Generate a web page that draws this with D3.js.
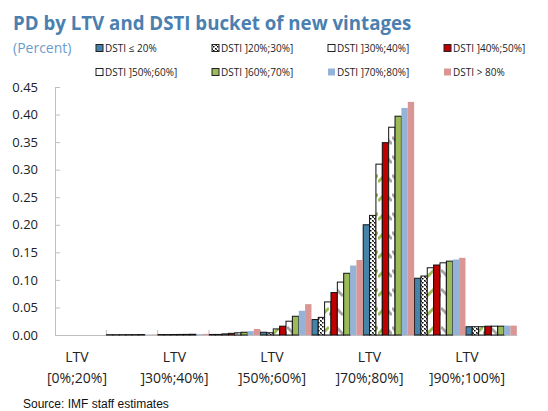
<!DOCTYPE html>
<html>

<head>
    <meta charset="utf-8">
    <title>PD by LTV and DSTI</title>
    <script src="https://d3js.org/d3.v7.min.js" charset="utf-8"></script>
    <style>
        body { margin: 0; background: #fff; }
        text { font-family: "Open Sans", sans-serif; }
    </style>
</head>

<body>

    <div class="box"></div>

    <script type="text/javascript">
        var categories = ["[0%;20%]", "]20%;30%]", "]30%;40%]", "]40%;50%]", "]50%;60%]",
            "]60%;70%]", "]70%;80%]", "]80%;90%]", "]90%;100%]"];
        var shownLabels = ["[0%;20%]", "]30%;40%]", "]50%;60%]", "]70%;80%]", "]90%;100%]"];
        var seriesNames = ["DSTI \u2264 20%", "DSTI ]20%;30%]", "DSTI ]30%;40%]", "DSTI ]40%;50%]",
            "DSTI ]50%;60%]", "DSTI ]60%;70%]", "DSTI ]70%;80%]", "DSTI > 80%"];

        var dsti20 = [0, 0.0005, 0.0008, 0.001, 0.005, 0.028, 0.200, 0.103, 0.015];
        var dsti30 = [0, 0.0005, 0.0008, 0.001, 0.004, 0.032, 0.217, 0.107, 0.015];
        var dsti40 = [0, 0.0006, 0.0009, 0.002, 0.011, 0.060, 0.310, 0.122, 0.015];
        var dsti50 = [0, 0.0006, 0.0010, 0.003, 0.016, 0.077, 0.349, 0.127, 0.016];
        var dsti60 = [0, 0.0007, 0.0011, 0.004, 0.025, 0.096, 0.377, 0.131, 0.016];
        var dsti70 = [0, 0.0008, 0.0013, 0.005, 0.034, 0.112, 0.397, 0.134, 0.016];
        var dsti80 = [0, 0.0009, 0.0016, 0.007, 0.044, 0.126, 0.412, 0.137, 0.017];
        var dstiOver = [0, 0.0010, 0.0020, 0.011, 0.056, 0.136, 0.423, 0.140, 0.017];
        var allSeries = [dsti20, dsti30, dsti40, dsti50, dsti60, dsti70, dsti80, dstiOver];

        var yTicks = [0, 0.05, 0.10, 0.15, 0.20, 0.25, 0.30, 0.35, 0.40, 0.45];

        // fills: plain colours or pattern ids
        var fills = ["#4584A8", "url(#checker)", "url(#greenZig)", "#C00000",
            "url(#grayZig)", "#9BBB59", "#95B3D7", "#D99694"];
        var outlined = [true, true, true, true, true, true, false, false];

        var width = 548;
        var height = 411;
        var plotLeft = 55, plotRight = 517, plotTop = 87, plotBottom = 335;

        var svg = d3.select("div.box").append("svg")
            .attr("width", width)
            .attr("height", height);

        var defs = svg.append("defs");
        var checker = defs.append("pattern")
            .attr("id", "checker")
            .attr("patternUnits", "userSpaceOnUse")
            .attr("width", 4)
            .attr("height", 4);
        checker.append("rect").attr("width", 4).attr("height", 4).attr("fill", "#fff");
        checker.append("rect").attr("x", 0).attr("y", 0).attr("width", 1.5).attr("height", 1.5).attr("fill", "#000");
        checker.append("rect").attr("x", 2).attr("y", 2).attr("width", 1.5).attr("height", 1.5).attr("fill", "#000");
        checker.append("rect").attr("x", 1).attr("y", 1).attr("width", 1).attr("height", 1).attr("fill", "#333");

        function zigPattern(id, color, flip) {
            var p = defs.append("pattern")
                .attr("id", id)
                .attr("patternUnits", "userSpaceOnUse")
                .attr("width", 7)
                .attr("height", 19);
            p.append("rect").attr("width", 7).attr("height", 19).attr("fill", "#fff");
            p.append("path")
                .attr("d", flip ? "M0,4 L7,11" : "M0,11 L7,4")
                .attr("stroke", color)
                .attr("stroke-width", 3)
                .attr("fill", "none");
        }
        zigPattern("greenZig", "#9BBB59", false);
        zigPattern("grayZig", "#A6A6A6", true);

        var x0 = d3.scaleBand()
            .domain(categories)
            .range([plotLeft, plotRight])
            .padding(0);
        var x1 = d3.scaleBand()
            .domain(d3.range(seriesNames.length))
            .range([0, x0.bandwidth()])
            .paddingOuter(0.03);
        var y = d3.scaleLinear()
            .domain([0, 0.45])
            .range([plotBottom, plotTop]);
        var xLabel = d3.scalePoint()
            .domain(shownLabels)
            .range([77, 467]);

        // title
        svg.append("text")
            .attr("x", 13)
            .attr("y", 30)
            .attr("fill", "#4A7FB0")
            .attr("font-size", 18.7)
            .attr("font-weight", "bold")
            .text("PD by LTV and DSTI bucket of new vintages");
        svg.append("text")
            .attr("x", 13)
            .attr("y", 53)
            .attr("fill", "#6C9CCB")
            .attr("font-size", 14)
            .text("(Percent)");

        // legend
        var legendX = [99, 215, 331, 447];
        var legendY = [48, 72];
        var legend = svg.selectAll("g.legend")
            .data(seriesNames)
            .enter()
            .append("g")
            .attr("class", "legend")
            .attr("transform", function(d, i) {
                return "translate(" + legendX[i % 4] + "," + legendY[Math.floor(i / 4)] + ")";
            });
        legend.append("rect")
            .attr("x", -3)
            .attr("y", -3.5)
            .attr("width", 7)
            .attr("height", 7)
            .attr("fill", function(d, i) { return fills[i]; })
            .attr("stroke", function(d, i) { return outlined[i] ? "#222" : "none"; })
            .attr("stroke-width", 1);
        legend.append("text")
            .attr("x", 6)
            .attr("y", 3.5)
            .attr("font-size", 10)
            .attr("fill", "#222")
            .text(function(d) { return d; });

        // axes
        var yAxis = d3.axisLeft(y)
            .tickValues(yTicks)
            .tickSize(-5)
            .tickPadding(17)
            .tickFormat(d3.format(".2f"));
        var gy = svg.append("g")
            .attr("transform", "translate(" + plotLeft + ",0)")
            .call(yAxis);
        gy.select(".domain").attr("stroke", "#BFBFBF");
        gy.selectAll(".tick line").attr("stroke", "#BFBFBF");
        gy.selectAll(".tick text")
            .attr("font-family", "Open Sans")
            .attr("font-size", 13)
            .attr("fill", "#222");

        var xAxis = d3.axisBottom(x0)
            .tickSize(0)
            .tickFormat("");
        var gx = svg.append("g")
            .attr("transform", "translate(0," + plotBottom + ")")
            .call(xAxis);
        gx.select(".domain").attr("stroke", "#BFBFBF");
        gx.selectAll(".tick").remove();
        gx.selectAll("line.sep")
            .data(categories.slice(1))
            .enter()
            .append("line")
            .attr("class", "sep")
            .attr("x1", function(d) { return x0(d); })
            .attr("x2", function(d) { return x0(d); })
            .attr("y1", 0)
            .attr("y2", -5)
            .attr("stroke", "#BFBFBF");

        // bars
        var groups = svg.selectAll("g.series")
            .data(allSeries)
            .enter()
            .append("g")
            .attr("class", "series");
        groups.selectAll("rect")
            .data(function(vals, s) {
                return vals.map(function(v, c) { return { s: s, c: categories[c], v: v }; });
            })
            .enter()
            .append("rect")
            .attr("x", function(d) { return x0(d.c) + x1(d.s); })
            .attr("y", function(d) { return y(d.v); })
            .attr("width", x1.bandwidth())
            .attr("height", function(d) { return y(0) - y(d.v); })
            .attr("fill", function(d) { return fills[d.s]; })
            .attr("stroke", function(d) { return outlined[d.s] && d.v > 0 ? "#111" : "none"; })
            .attr("stroke-width", 1);

        // x labels
        var xl = svg.selectAll("text.xl")
            .data(shownLabels)
            .enter()
            .append("text")
            .attr("class", "xl")
            .attr("text-anchor", "middle")
            .attr("font-size", 14)
            .attr("fill", "#222");
        xl.append("tspan")
            .attr("x", function(d) { return xLabel(d); })
            .attr("y", 362)
            .text("LTV");
        xl.append("tspan")
            .attr("x", function(d) { return xLabel(d); })
            .attr("y", 383)
            .text(function(d) { return d; });

        svg.append("text")
            .attr("x", 23)
            .attr("y", 408)
            .style("font-family", "'Liberation Sans', Arial, sans-serif")
            .attr("font-size", 12)
            .attr("fill", "#111")
            .text("Source: IMF staff estimates");
    </script>

</body>

</html>
